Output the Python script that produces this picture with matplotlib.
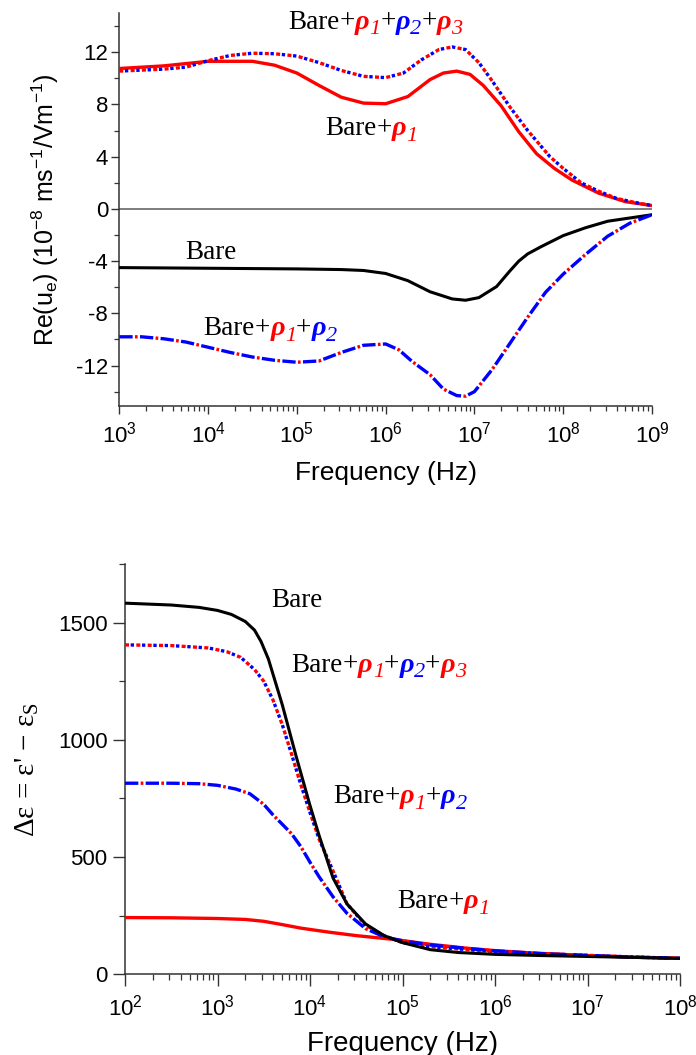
import numpy as np
import matplotlib
matplotlib.use("Agg")
import matplotlib.pyplot as plt
from matplotlib.ticker import FixedLocator, FuncFormatter, LogLocator, NullFormatter
from matplotlib.transforms import IdentityTransform

plt.rcParams['font.family'] = ['Liberation Sans', 'DejaVu Sans']
plt.rcParams['mathtext.default'] = 'regular'
plt.rcParams['axes.unicode_minus'] = False

# ---------------- data: top panel (log10 frequency, Re(u_e)) ----------------
top_bare_logf = [3.0, 4.0, 5.0, 5.5, 5.75, 6.0, 6.25, 6.5, 6.75, 6.9, 7.05, 7.25, 7.4, 7.5, 7.6, 7.75, 8.0, 8.25, 8.5, 8.75, 9.0]
top_bare = [-4.5, -4.55, -4.6, -4.65, -4.72, -4.95, -5.5, -6.35, -6.9, -7.0, -6.8, -5.95, -4.75, -4.0, -3.45, -2.9, -2.05, -1.45, -0.95, -0.7, -0.45]

top_r12_logf = [3.0, 3.25, 3.5, 3.75, 4.0, 4.25, 4.5, 4.75, 5.0, 5.25, 5.5, 5.75, 6.0, 6.15, 6.3, 6.5, 6.65, 6.8, 6.9, 7.0, 7.2, 7.4, 7.6, 7.8, 8.0, 8.25, 8.5, 8.75, 9.0]
top_r12 = [-9.8, -9.8, -9.95, -10.2, -10.6, -11.0, -11.35, -11.6, -11.75, -11.65, -11.0, -10.45, -10.35, -10.8, -11.7, -12.7, -13.8, -14.3, -14.35, -14.0, -12.3, -10.3, -8.3, -6.4, -5.0, -3.5, -2.1, -1.1, -0.45]

top_r1_logf = [3.0, 3.5, 4.0, 4.5, 4.75, 5.0, 5.25, 5.5, 5.75, 6.0, 6.25, 6.5, 6.65, 6.8, 6.95, 7.1, 7.3, 7.5, 7.7, 7.9, 8.1, 8.4, 8.7, 9.0]
top_r1 = [10.75, 10.95, 11.3, 11.3, 11.0, 10.4, 9.45, 8.55, 8.1, 8.05, 8.6, 9.9, 10.4, 10.55, 10.3, 9.45, 7.9, 5.9, 4.22, 3.1, 2.2, 1.2, 0.55, 0.25]

top_r123_logf = [3.0, 3.5, 3.75, 4.0, 4.25, 4.5, 4.75, 5.0, 5.25, 5.5, 5.75, 6.0, 6.2, 6.4, 6.6, 6.75, 6.9, 7.05, 7.2, 7.4, 7.6, 7.85, 8.0, 8.2, 8.4, 8.6, 8.8, 9.0]
top_r123 = [10.55, 10.7, 10.85, 11.35, 11.75, 11.92, 11.88, 11.7, 11.2, 10.6, 10.15, 10.05, 10.4, 11.4, 12.2, 12.4, 12.2, 11.2, 9.8, 7.8, 6.0, 4.0, 3.1, 2.0, 1.35, 0.8, 0.5, 0.25]

# ---------------- data: bottom panel (log10 frequency, delta epsilon) ----------------
bot_bare_logf = [2.0, 2.5, 2.8, 3.0, 3.15, 3.3, 3.4, 3.47, 3.55, 3.7, 3.85, 4.0, 4.1, 4.25, 4.4, 4.6, 4.8, 5.0, 5.3, 5.6, 6.0, 6.5, 7.0, 7.5, 8.0]
bot_bare = [1583, 1575, 1565, 1552, 1535, 1505, 1468, 1420, 1345, 1150, 930, 720, 590, 410, 300, 215, 165, 135, 105, 93, 85, 80, 76, 72, 68]

bot_r123_logf = [2.0, 2.5, 2.9, 3.1, 3.25, 3.4, 3.5, 3.6, 3.7, 3.8, 3.9, 4.0, 4.1, 4.25, 4.4, 4.6, 4.8, 5.0, 5.3, 5.6, 6.0, 6.5, 7.0, 7.5, 8.0]
bot_r123 = [1405, 1402, 1392, 1376, 1352, 1300, 1250, 1170, 1065, 940, 810, 690, 575, 440, 300, 210, 165, 135, 118, 108, 97, 88, 81, 74, 68]

bot_r12_logf = [2.0, 2.5, 2.8, 3.0, 3.2, 3.35, 3.5, 3.6, 3.7, 3.8, 3.9, 4.0, 4.1, 4.25, 4.4, 4.6, 4.8, 5.0, 5.3, 5.7, 6.0, 6.5, 7.0, 7.5, 8.0]
bot_r12 = [815, 815, 813, 806, 790, 770, 725, 680, 640, 600, 545, 478, 415, 330, 260, 195, 160, 143, 125, 110, 100, 88, 80, 73, 68]

bot_r1_logf = [2.0, 2.5, 3.0, 3.3, 3.5, 3.7, 3.9, 4.2, 4.5, 4.9, 5.3, 5.7, 6.0, 6.4, 7.0, 7.5, 8.0]
bot_r1 = [242, 241, 238, 234, 226, 212, 197, 180, 165, 149, 128, 111, 101, 91, 80, 73, 68]

top_xticks = [1e3, 1e4, 1e5, 1e6, 1e7, 1e8, 1e9]
top_yticks = [-12, -8, -4, 0, 4, 8, 12]
bot_xticks = [1e2, 1e3, 1e4, 1e5, 1e6, 1e7, 1e8]
bot_yticks = [0, 500, 1000, 1500]

RED = '#ff0000'
BLUE = '#0000ff'
DOT_R = (0, (1.2, 2.2))
DOT_B = (1.7, (1.0, 2.4))
DASH_B = (0, (4, 2.2))
DOT_R2 = (1.5, (0.8, 5.4))

W, H = 696, 1055
fig = plt.figure(figsize=(W / 100, H / 100), dpi=100)

ax1 = fig.add_axes([119.3 / W, 1 - 406 / H, (652 - 119.3) / W, (406 - 13) / H])
ax2 = fig.add_axes([125 / W, 1 - 974.3 / H, (680 - 125) / W, (974.3 - 564) / H])


def pow10(v):
    return 10.0 ** np.asarray(v)


def logfmt(v, p):
    return r'$10^{%d}$' % int(round(np.log10(v)))


def style_axes(ax, maj_len, min_len, lab_size, xpad, ypad):
    for s in ['top', 'right']:
        ax.spines[s].set_visible(False)
    for s in ['left', 'bottom']:
        ax.spines[s].set_color('#333333')
        ax.spines[s].set_linewidth(1.1)
    ax.tick_params(which='major', direction='out', length=maj_len, width=1.0, color='#333333',
                   labelsize=lab_size)
    ax.tick_params(which='minor', direction='out', length=min_len, width=0.9, color='#333333')
    ax.tick_params(axis='x', pad=xpad)
    ax.tick_params(axis='y', pad=ypad)


# ---------------- top panel ----------------
ax1.set_xscale('log')
ax1.set_xlim(1e3, 1e9)
ax1.set_ylim(-15.1, 15.0)
ax1.axhline(0, color='#666666', lw=1.2, zorder=1)
ax1.plot(pow10(top_bare_logf), top_bare, color='black', lw=2.2, zorder=3)
ax1.plot(pow10(top_r1_logf), top_r1, color=RED, lw=2.4, zorder=3)
ax1.plot(pow10(top_r123_logf), top_r123, color=RED, lw=2.4, ls=DOT_R, zorder=3)
ax1.plot(pow10(top_r123_logf), top_r123, color=BLUE, lw=2.4, ls=DOT_B, zorder=4)
ax1.plot(pow10(top_r12_logf), top_r12, color=BLUE, lw=2.4, ls=DASH_B, zorder=4)
ax1.plot(pow10(top_r12_logf), top_r12, color=RED, lw=2.4, ls=DOT_R2, zorder=3)

ax1.xaxis.set_major_locator(FixedLocator(top_xticks))
ax1.xaxis.set_major_formatter(FuncFormatter(logfmt))
ax1.xaxis.set_minor_locator(LogLocator(base=10, subs=np.arange(2, 10), numticks=20))
ax1.xaxis.set_minor_formatter(NullFormatter())
ax1.yaxis.set_major_locator(FixedLocator(top_yticks))
ax1.yaxis.set_minor_locator(FixedLocator([-14, -10, -6, -2, 2, 6, 10, 14]))
style_axes(ax1, 6, 3.5, 16, 5, 2)
ax1.set_xlabel('Frequency (Hz)', fontsize=19)
ax1.xaxis.set_label_coords(0.5, (406 - 473) / 393)
ax1.xaxis.label.set_va('center')
ax1.set_ylabel(r'Re(u$_e$) (10$^{-8}$ ms$^{-1}$/Vm$^{-1}$)', fontsize=18)
ax1.yaxis.set_label_coords((45 - 119.3) / 532.7, 0.5)
ax1.yaxis.label.set_va('center')

# ---------------- bottom panel ----------------
ax2.set_xscale('log')
ax2.set_xlim(1e2, 1e8)
ax2.set_ylim(0, 1750)
ax2.plot(pow10(bot_r1_logf), bot_r1, color=RED, lw=2.4, zorder=3)
ax2.plot(pow10(bot_r12_logf), bot_r12, color=BLUE, lw=2.4, ls=DASH_B, zorder=4)
ax2.plot(pow10(bot_r12_logf), bot_r12, color=RED, lw=2.4, ls=DOT_R2, zorder=3)
ax2.plot(pow10(bot_r123_logf), bot_r123, color=RED, lw=2.4, ls=DOT_R, zorder=3)
ax2.plot(pow10(bot_r123_logf), bot_r123, color=BLUE, lw=2.4, ls=DOT_B, zorder=4)
ax2.plot(pow10(bot_bare_logf), bot_bare, color='black', lw=2.2, zorder=5)

ax2.xaxis.set_major_locator(FixedLocator(bot_xticks))
ax2.xaxis.set_major_formatter(FuncFormatter(logfmt))
ax2.xaxis.set_minor_locator(LogLocator(base=10, subs=np.arange(2, 10), numticks=20))
ax2.xaxis.set_minor_formatter(NullFormatter())
ax2.yaxis.set_major_locator(FixedLocator(bot_yticks))
ax2.yaxis.set_minor_locator(FixedLocator([250, 750, 1250, 1750]))
style_axes(ax2, 8.5, 4.3, 16, 6, 4)
ax2.set_xlabel('Frequency (Hz)', fontsize=20)
ax2.xaxis.set_label_coords(0.5, (974.3 - 1044) / 410.3)
ax2.xaxis.label.set_va('center')
ax2.set_ylabel("Δε = ε' − ε$_S$", fontsize=21, family=['Liberation Serif', 'DejaVu Serif'])
ax2.yaxis.set_label_coords((27 - 125) / 555, 0.5)
ax2.yaxis.label.set_va('center')

# ---------------- multi-coloured annotations ----------------
fig.canvas.draw()
renderer = fig.canvas.get_renderer()
SERIF = ['Liberation Serif', 'DejaVu Serif']


def rich(ax, x, y, pieces, fs):
    x0, y0 = ax.transData.transform((x, y))
    for s, color, kind in pieces:
        size, dy, weight, style = fs, 0.0, 'normal', 'normal'
        if kind == 'g':
            size = fs * 1.05
            weight, style = 'bold', 'italic'
        elif kind == 's':
            size = fs * 0.82
            dy = -0.2 * fs * 100 / 72
            style = 'italic'
        t = fig.text(x0, y0 + dy, s, transform=IdentityTransform(), fontsize=size,
                     color=color, family=SERIF, fontweight=weight, fontstyle=style,
                     va='baseline', ha='left')
        bb = t.get_window_extent(renderer)
        x0 = bb.x1


def label(ax, x, y, rhos, fs=19.5):
    pieces = [('Bare', 'black', 'n')]
    for name, sub, col in rhos:
        pieces += [('+', 'black', 'n'), ('ρ', col, 'g'), (sub, col, 's')]
    rich(ax, x, y, pieces, fs)


R1 = ('ρ', '1', RED)
R2 = ('ρ', '2', BLUE)
R3 = ('ρ', '3', RED)

label(ax1, 10 ** 4.90, 13.8, [R1, R2, R3])
label(ax1, 10 ** 5.32, 5.62, [R1])
label(ax1, 10 ** 3.74, -3.81, [])
label(ax1, 10 ** 3.95, -9.68, [R1, R2])

label(ax2, 10 ** 3.586, 1568, [])
label(ax2, 10 ** 3.80, 1291, [R1, R2, R3])
label(ax2, 10 ** 4.25, 729, [R1, R2])
label(ax2, 10 ** 4.94, 281, [R1])

fig.savefig('out.png', dpi=100)
